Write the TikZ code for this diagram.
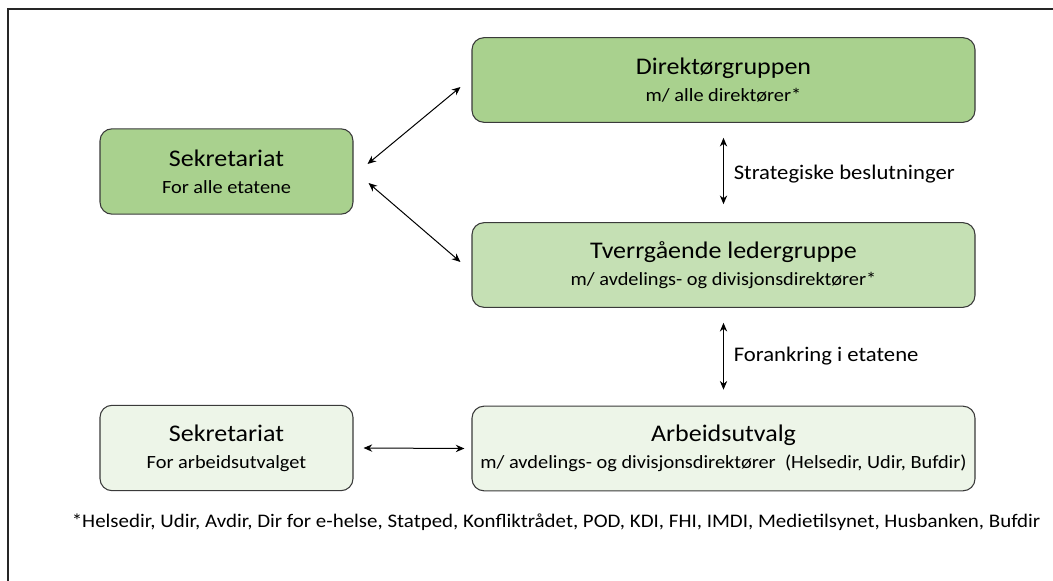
\documentclass[tikz,border=0pt]{standalone}
\usepackage{fontspec}
\setmainfont{Carlito}[FakeStretch=1.09]
\usetikzlibrary{arrows.meta}

\definecolor{gronnMork}{HTML}{A9D18E}
\definecolor{gronnMiddels}{HTML}{C5E0B4}
\definecolor{gronnLys}{HTML}{EDF5E8}
\definecolor{kant}{HTML}{3A3A3A}

\newcommand{\undertekst}[1]{{\fontsize{14}{20.5}\selectfont #1}}

\begin{document}
\begin{tikzpicture}[x=0.75pt, y=-0.75pt, >={Stealth[length=6.5pt,width=5.5pt]}, line width=0.75pt,
    boks/.style={draw=kant, line width=0.8pt, rounded corners=9pt, align=center,
        inner sep=0pt, font=\fontsize{17.9}{20.5}\selectfont},
    bred/.style={boks, minimum width=377.25pt, minimum height=63.5pt},
    smal/.style={boks, minimum width=189.75pt, minimum height=64pt},
    etikett/.style={right, xshift=4pt, font=\fontsize{15.6}{17}\selectfont}]

        \useasboundingbox (0,0) rectangle (1053,581);
        \begin{scope}
            \clip (0,0) rectangle (1053,581);
            \draw[line width=1.4pt, draw=black!85] (8,600) -- (8,9) -- (1070,9);
        \end{scope}

        % Venstre side
        \node[smal, fill=gronnMork] at (226.5,171.5) (sekAlle) {Sekretariat\\\undertekst{For alle etatene}};
        \node[smal, fill=gronnLys] at (226.5,448) (sekAU) {Sekretariat\\\undertekst{For arbeidsutvalget}};

        % Høyre side
        \node[bred, fill=gronnMork] at (723.5,80) (direktor) {Direktørgruppen\\\undertekst{m/ alle direktører*}};
        \node[bred, fill=gronnMiddels] at (723.5,265) (tverr) {Tverrgående ledergruppe\\\undertekst{m/ avdelings- og divisjonsdirektører*}};
        \node[bred, fill=gronnLys] at (723.5,448.5) (arbeid) {Arbeidsutvalg\\\undertekst{m/ avdelings- og divisjonsdirektører\ \ (Helsedir, Udir, Bufdir)}};

        % Fotnote
        \node[font=\fontsize{14.4}{16}\selectfont] at (556,522) (fotnote) {*Helsedir, Udir, Avdir, Dir for e-helse, Statped, Konfliktrådet, POD, KDI, FHI, IMDI, Medietilsynet, Husbanken, Bufdir};

        % Piler fra sekretariatet
        \draw[<->] ([shift={(14,-7.5)}]sekAlle.east) -- ([shift={(-11,7)}]direktor.west);
        \draw[<->] ([shift={(15,11.5)}]sekAlle.east) -- ([shift={(-11,-3)}]tverr.west);

        % Loddrette piler
        \draw[<->] ([yshift=-11.25pt]direktor.south) -- node[etikett, yshift=-2.5pt] {Strategiske beslutninger} ([yshift=13.5pt]tverr.north);
        \draw[<->] ([yshift=-11.25pt]tverr.south) -- node[etikett] {Forankring i etatene} ([yshift=12pt]arbeid.north);

        % Vannrett pil
        \draw[<->] ([xshift=7.5pt]sekAU.east) -- ([xshift=-5.25pt]arbeid.west);

\end{tikzpicture}
\end{document}
